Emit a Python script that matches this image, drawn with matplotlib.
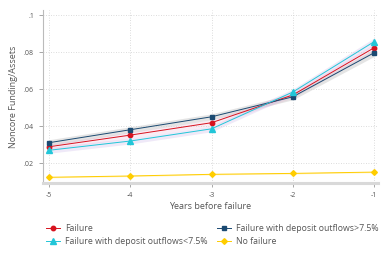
import matplotlib
matplotlib.use("Agg")
import matplotlib.pyplot as plt
import numpy as np

plt.rcParams['font.family'] = ['Open Sans', 'DejaVu Sans']

years = [-5, -4, -3, -2, -1]
failure = [0.0288, 0.0351, 0.0418, 0.0568, 0.0823]
fail_hi_out = [0.0310, 0.0380, 0.0450, 0.0558, 0.0796]
fail_lo_out = [0.0269, 0.0319, 0.0385, 0.0584, 0.0856]
no_failure = [0.0123, 0.0130, 0.0139, 0.0144, 0.0151]
ci_half = [0.0016, 0.0016, 0.0016, 0.0016, 0.0020]
ci_half_nf = [0.0003, 0.0003, 0.0003, 0.0003, 0.0003]

ytick_vals = [0.02, 0.04, 0.06, 0.08, 0.1]
ytick_labels = ['.02', '.04', '.06', '.08', '.1']
xtick_labels = ['-5', '-4', '-3', '-2', '-1']

c_red = '#d7131f'
c_navy = '#1b4a72'
c_cyan = '#22c6d8'
c_yel = '#ffcd00'
txt = '#555555'

fig = plt.figure(figsize=(3.89, 2.59), dpi=100)
ax = fig.add_axes([0.1105, 0.2934, 0.8615, 0.6676])

x = np.array(years)
def band(vals, half, color, alpha):
    v = np.array(vals); h = np.array(half)
    ax.fill_between(x, v - h, v + h, color=color, alpha=alpha, lw=0, zorder=1)

band(fail_hi_out, ci_half, '#a0a0a0', 0.28)
band(failure, ci_half, '#e6a0c8', 0.2)
band(fail_lo_out, ci_half, '#c9b3e6', 0.28)
band(no_failure, ci_half_nf, '#ffe680', 0.5)

ms = 3.2
l1, = ax.plot(x, failure, color=c_red, marker='o', ms=ms, lw=0.7, zorder=3, label='Failure')
l2, = ax.plot(x, fail_hi_out, color=c_navy, marker='s', ms=ms, lw=0.7, zorder=3, label='Failure with deposit outflows>7.5%')
l3, = ax.plot(x, fail_lo_out, color=c_cyan, marker='^', ms=ms + 0.6, lw=0.7, zorder=3, label='Failure with deposit outflows<7.5%')
l4, = ax.plot(x, no_failure, color=c_yel, marker='D', ms=ms - 0.3, lw=0.7, zorder=3, label='No failure')

ax.set_xlim(-5.074, -0.95)
ax.set_ylim(0.0092, 0.1027)
ax.set_xticks(years)
ax.set_xticklabels(xtick_labels)
ax.set_yticks(ytick_vals)
ax.set_yticklabels(ytick_labels)
ax.grid(True, color='#d0d0d0', linestyle=(0, (1, 2)), lw=0.6, zorder=0)
for s in ['top', 'right']:
    ax.spines[s].set_visible(False)
ax.spines['bottom'].set_color('#d9d9d9')
ax.spines['bottom'].set_linewidth(2.2)
ax.spines['left'].set_color('#bbbbbb')
ax.spines['left'].set_linewidth(0.8)
ax.tick_params(axis='both', labelsize=5, colors='#999999', labelcolor=txt, length=3, width=0.6)
ax.set_xlabel('Years before failure', fontsize=6.5, color=txt, labelpad=2)
ax.set_ylabel('Noncore Funding/Assets', fontsize=6.5, color=txt, labelpad=4)

fig.legend(handles=[l1, l3, l2, l4], ncol=2, loc='upper left', bbox_to_anchor=(0.117, 0.135),
           frameon=False, fontsize=6.3, labelcolor=txt, handlelength=1.6, handletextpad=0.6,
           columnspacing=1.1, labelspacing=0.5, borderaxespad=0, borderpad=0)

fig.savefig('out.png', dpi=100)
